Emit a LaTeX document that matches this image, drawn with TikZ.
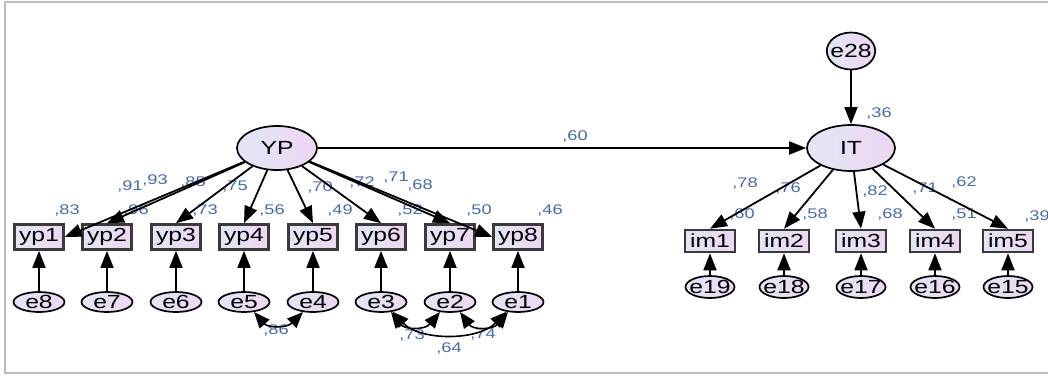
\documentclass[tikz,border=0pt]{standalone}
\usepackage{fontspec}
\setmainfont{Liberation Sans}[FakeStretch=1.3]
\usetikzlibrary{shapes.geometric,arrows.meta}
\definecolor{lblblue}{RGB}{74,105,170}
\definecolor{fillL}{RGB}{226,230,245}
\definecolor{fillR}{RGB}{238,214,242}
\definecolor{edgegray}{RGB}{58,58,58}
\definecolor{framegray}{RGB}{188,188,188}
\tikzset{
  latent/.style={ellipse, draw=black, line width=1.7pt, left color=fillL, right color=fillR,
    inner sep=0pt, font=\fontsize{19}{19}\selectfont},
  obsbox/.style={rectangle, draw=edgegray, line width=2.6pt, left color=fillL, right color=fillR,
    inner sep=0pt, minimum width=49pt, minimum height=25pt, font=\fontsize{19}{19}\selectfont},
  errnode/.style={latent, inner xsep=-3.5pt, inner ysep=-2pt, minimum width=51pt, minimum height=20pt},
  coef/.style={text=lblblue, font=\fontsize{14}{14}\selectfont, inner sep=0pt},
  regpath/.style={draw=black, line width=1.8pt, -{Triangle[length=17pt,width=13pt]}},
  covpath/.style={draw=black, line width=1.6pt,
    {Triangle[length=16pt,width=13pt]}-{Triangle[length=16pt,width=13pt]}},
}
\begin{document}
\begin{tikzpicture}[x=1pt,y=-1pt]
\useasboundingbox (0,0) rectangle (1048,376);
% frame
\draw[framegray, line width=2pt] (1048,2) -- (4.5,2) -- (4.5,373) -- (1048,373);

% latent variables
\node[latent, minimum width=80pt, minimum height=44pt] (YP) at (277,148) {YP};
\node[latent, minimum width=88pt, minimum height=46pt] (IT) at (851,148) {IT};
\node[latent, inner xsep=-3.5pt, inner ysep=6pt, minimum width=48pt, minimum height=37pt] (e28) at (851,51) {e28};

% YP indicators and their errors
\foreach \i/\x/\e in {1/39/8, 2/107/7, 3/176/6, 4/244/5, 5/313/4, 6/381/3, 7/450/2, 8/518/1}{
  \node[obsbox] (yp\i) at (\x,237) {yp\i};
  \node[errnode] (e\e) at (\x,302) {e\e};
}
% IT indicators and their errors
\foreach \i/\x/\e in {1/710/19, 2/784/18, 3/861/17, 4/935/16, 5/1008/15}{
  \node[obsbox, minimum width=50pt, minimum height=22pt] (im\i) at (\x,241) {im\i};
  \node[errnode, minimum width=49pt, minimum height=22pt] (e\e) at (\x,287) {e\e};
}

% coefficients
\node[coef] (cYPIT) at (575,137) {,60};
\node[coef] (r28) at (879,114) {,36};
\node[coef] (l1) at (130,186) {,91};
\node[coef] (l2) at (155,180) {,93};
\node[coef] (l3) at (193,182) {,85};
\node[coef] (l4) at (235,187) {,75};
\node[coef] (l5) at (320,187) {,70};
\node[coef] (l6) at (362,182) {,72};
\node[coef] (l7) at (396,178) {,71};
\node[coef] (l8) at (420,185) {,68};
\node[coef] (r1) at (67,210) {,83};
\node[coef] (r2) at (136,210) {,96};
\node[coef] (r3) at (205,210) {,73};
\node[coef] (r4) at (272,210) {,56};
\node[coef] (r5) at (340,210) {,49};
\node[coef] (r6) at (410,210) {,52};
\node[coef] (r7) at (479,210) {,50};
\node[coef] (r8) at (550,210) {,46};
\node[coef] (m1) at (745,183) {,78};
\node[coef] (m2) at (788,188) {,76};
\node[coef] (m3) at (875,191) {,82};
\node[coef] (m4) at (925,189) {,71};
\node[coef] (m5) at (964,182) {,62};
\node[coef] (s1) at (742,214) {,60};
\node[coef] (s2) at (815,214) {,58};
\node[coef] (s3) at (890,214) {,68};
\node[coef] (s4) at (964,215) {,51};
\node[coef] (s5) at (1037,216) {,39};
\node[coef] (c54) at (276,330) {,86};
\node[coef] (c32) at (412,335) {,73};
\node[coef] (c21) at (483,335) {,74};
\node[coef] (c31) at (449,348) {,64};

% structural path
\draw[regpath] (YP) -- (IT);
\draw[regpath] (e28) -- (IT);

% loadings
\draw[regpath] (YP) -- (yp1.east);
\draw[regpath] (YP) -- (yp2.north);
\foreach \i in {3,4,5,6,7}{\draw[regpath] (YP) -- (yp\i.north);}
\draw[regpath] (YP) -- (yp8.west);
\foreach \i in {1,...,5}{\draw[regpath] (IT) -- (im\i.north);}

% error terms
\foreach \i/\e in {1/8, 2/7, 3/6, 4/5, 5/4, 6/3, 7/2, 8/1}{\draw[regpath] (e\e) -- (yp\i);}
\foreach \i/\e in {1/19, 2/18, 3/17, 4/16, 5/15}{\draw[regpath] (e\e) -- (im\i);}

% error covariances
\draw[covpath] (e5.-45) .. controls (268,328) and (287,328) .. (e4.-135);
\draw[covpath] (e3.-45) .. controls (405,330) and (425,330) .. (e2.-135);
\draw[covpath] (e2.-45) .. controls (473,330) and (493,330) .. (e1.-135);
\draw[covpath] (e3.-40) .. controls (420,341) and (478,341) .. (e1.-140);
\end{tikzpicture}
\end{document}
